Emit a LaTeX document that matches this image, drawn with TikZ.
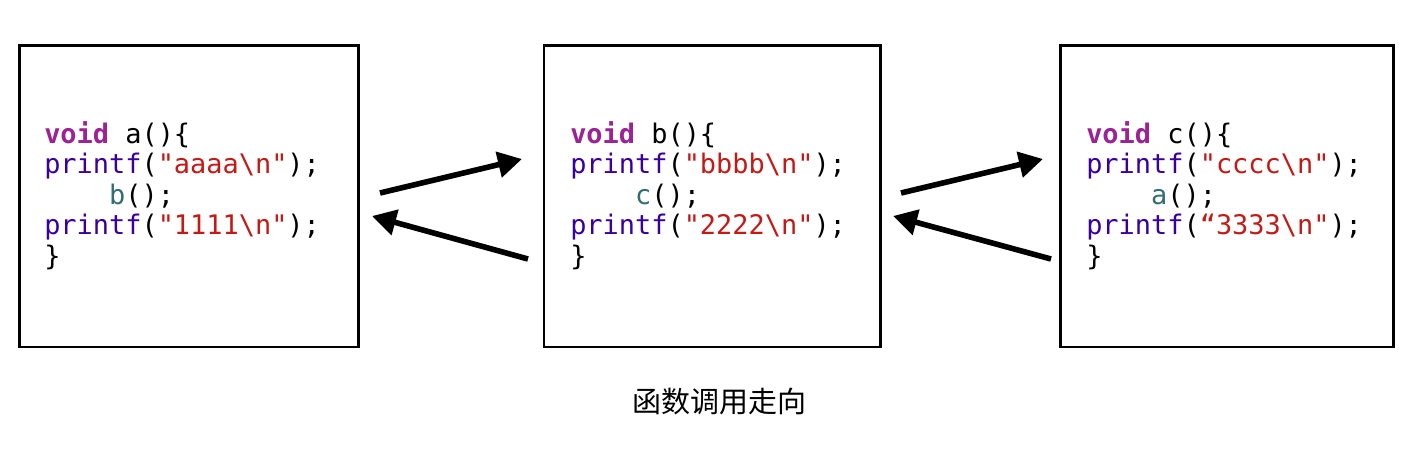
\documentclass[tikz,border=0pt]{standalone}
\usepackage{fontspec}
\usetikzlibrary{arrows.meta}
\newfontfamily\codefont[Ligatures=TeXOff]{DejaVu Sans Mono}
\newfontfamily\cjkfont{Noto Sans CJK SC}
\definecolor{kwc}{HTML}{9B2393}
\definecolor{fnc}{HTML}{3900A0}
\definecolor{strc}{HTML}{C41A16}
\definecolor{callc}{HTML}{326D74}
\newcommand\codeblk[7]{%
  \node[codeline] (#1l1) at (#2,143) {\textcolor{kwc}{\bfseries void} #3()\{};
  \node[codeline] (#1l2) at (#2,173.5) {\textcolor{fnc}{printf}(\textcolor{strc}{"#4\textbackslash n"});};
  \node[codeline] (#1l3) at (#2,204) {\phantom{xxxx}\textcolor{callc}{#5}();};
  \node[codeline] (#1l4) at (#2,234.5) {\textcolor{fnc}{printf}(\textcolor{strc}{#6#7\textbackslash n"});};
  \node[codeline] (#1l5) at (#2,265) {\}};
}
\begin{document}
\begin{tikzpicture}[x=0.75pt,y=-0.75pt,
  box/.style={draw, line width=1.875pt, inner sep=0pt, minimum height=226.125pt},
  codeline/.style={anchor=base west, inner sep=0pt, font=\codefont\fontsize{20.2pt}{24pt}\selectfont},
  flow/.style={-{Triangle[length=18pt,width=19pt]}, line width=4.2pt},
  caption/.style={inner sep=0pt, font=\cjkfont\fontsize{21.75pt}{26pt}\selectfont}]
\useasboundingbox (0,0) rectangle (1412,456);
\fill[white] (0,0) rectangle (1412,456);
% boxes
\node[box, minimum width=254.25pt] (boxa) at (189,196.25) {};
\node[box, minimum width=252.4pt] (boxb) at (712.25,196.25) {};
\node[box, minimum width=249.75pt] (boxc) at (1227,196.25) {};
% code
\codeblk{a}{44}{a}{aaaa}{b}{"}{1111}
\codeblk{b}{570}{b}{bbbb}{c}{"}{2222}
\codeblk{c}{1086}{c}{cccc}{a}{“}{3333}
% arrow ends
\coordinate (a1s) at (380,193);
\coordinate (a1e) at (522,159);
\coordinate (a2s) at (528,259);
\coordinate (a2e) at (372,216);
\coordinate (b1s) at (901,193);
\coordinate (b1e) at (1043,159);
\coordinate (b2s) at (1051,259);
\coordinate (b2e) at (893,216);
\draw[flow] (a1s) -- (a1e);
\draw[flow] (a2s) -- (a2e);
\draw[flow] (b1s) -- (b1e);
\draw[flow] (b2s) -- (b2e);
% caption
\node[caption] (cap) at (719,402) {函数调用走向};
\end{tikzpicture}
\end{document}
